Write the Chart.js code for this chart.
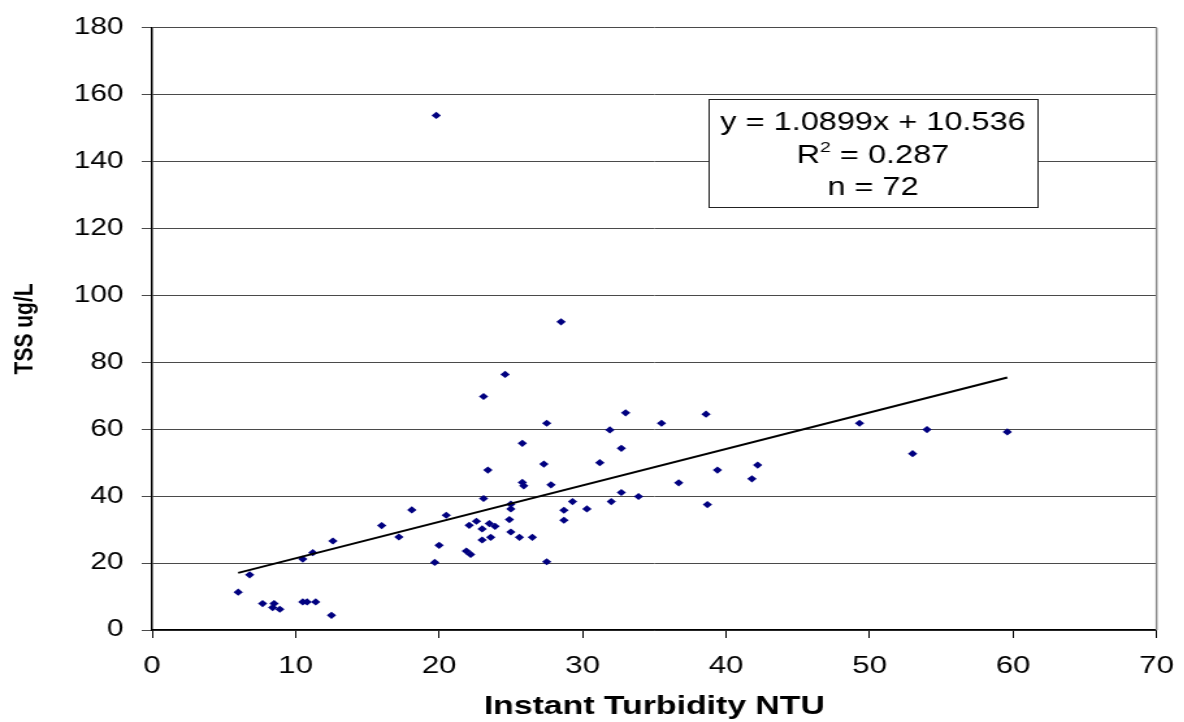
<!DOCTYPE html>
<html>
<head>
<meta charset="utf-8">
<script src="https://cdn.jsdelivr.net/npm/chart.js@4.4.1/dist/chart.umd.min.js"></script>
<style>
    html, body { margin: 0; padding: 0; background: #fff; overflow: hidden; }
    /* the whole chart is drawn narrow and widened, like the original export */
    #wrap {
        position: absolute; left: 0; top: 0;
        width: 911px; height: 722px;
        transform: scaleX(1.3); transform-origin: 0 0;
    }
</style>
</head>
<body>
<div id="wrap"><canvas id="tssChart"></canvas></div>
<script>
// instant turbidity (NTU) vs. TSS (ug/L)
const turbidity = [
    6.0, 6.8, 7.7, 8.5, 8.4, 8.9, 10.5, 10.8, 11.4, 12.5,
    10.5, 11.2, 12.6, 16.0, 17.2, 18.1, 20.5, 20.0, 19.7, 19.8,
    24.6, 23.1, 28.5, 33.0, 38.6, 27.5, 35.5, 31.9, 25.8, 32.7,
    23.4, 27.3, 31.2, 39.4, 36.7, 25.8, 25.9, 27.8, 32.7, 33.9,
    23.1, 29.3, 32.0, 38.7, 25.0, 25.0, 28.7, 30.3, 22.1, 22.6,
    23.0, 23.5, 23.9, 24.9, 28.7, 25.0, 25.6, 26.5, 23.0, 23.6,
    21.9, 22.2, 27.5, 49.3, 54.0, 53.0, 42.2, 41.8, 59.6
];
const tss = [
    11.3, 16.5, 7.9, 7.9, 6.7, 6.2, 8.4, 8.4, 8.4, 4.4,
    21.2, 23.1, 26.6, 31.2, 27.8, 35.9, 34.3, 25.3, 20.2, 153.8,
    76.4, 69.8, 92.1, 64.9, 64.5, 61.8, 61.8, 59.8, 55.8, 54.3,
    47.8, 49.6, 50.0, 47.8, 44.0, 44.1, 43.1, 43.4, 41.1, 39.9,
    39.3, 38.4, 38.4, 37.5, 37.6, 36.2, 35.8, 36.2, 31.3, 32.5,
    30.2, 31.8, 31.0, 33.0, 32.8, 29.3, 27.7, 27.7, 26.9, 27.7,
    23.6, 22.6, 20.4, 61.8, 59.9, 52.7, 49.3, 45.2, 59.2
];

// linear fit as reported
const slope = 1.0899;
const intercept = 10.536;
const rSquared = 0.287;
const nSamples = 72;

// axis ticks
const xTicks = [0, 10, 20, 30, 40, 50, 60, 70];
const yTicks = [0, 20, 40, 60, 80, 100, 120, 140, 160, 180];

const FONT = "'Liberation Sans', Arial, sans-serif";

const points = turbidity.map((x, i) => ({ x: x, y: tss[i] }));
const xMin = Math.min(...turbidity);
const xMax = Math.max(...turbidity);
const trend = [xMin, xMax].map(x => ({ x: x, y: slope * x + intercept }));

// right frame line + equation box
const framePlugin = {
    id: 'frame',
    afterDraw(chart) {
        const { ctx, chartArea: a } = chart;
        ctx.save();
        ctx.strokeStyle = '#8a8a8a';
        ctx.lineWidth = 1.5;
        ctx.beginPath();
        ctx.moveTo(a.right, a.top);
        ctx.lineTo(a.right, a.bottom);
        ctx.stroke();

        const bx = a.left + 428, by = 99, bw = 253, bh = 108;
        ctx.fillStyle = '#fff';
        ctx.fillRect(bx, by, bw, bh);
        ctx.strokeStyle = '#222';
        ctx.lineWidth = 1;
        ctx.strokeRect(bx + 0.5, by + 0.5, bw, bh);

        const cx = bx + bw / 2;
        ctx.fillStyle = '#000';
        ctx.textBaseline = 'alphabetic';
        ctx.textAlign = 'center';
        ctx.font = '25px ' + FONT;
        ctx.fillText('y = ' + slope.toFixed(4) + 'x + ' + intercept.toFixed(3), cx, by + 31);
        ctx.fillText('n = ' + nSamples, cx, by + 96);

        // R² line with a raised 2
        const rest = ' = ' + rSquared.toFixed(3);
        ctx.textAlign = 'left';
        const wR = ctx.measureText('R').width;
        const wRest = ctx.measureText(rest).width;
        ctx.font = '15px ' + FONT;
        const wSup = ctx.measureText('2').width;
        const x0 = cx - (wR + wSup + wRest) / 2;
        ctx.font = '25px ' + FONT;
        ctx.fillText('R', x0, by + 64);
        ctx.font = '15px ' + FONT;
        ctx.fillText('2', x0 + wR, by + 53);
        ctx.font = '25px ' + FONT;
        ctx.fillText(rest, x0 + wR + wSup, by + 64);
        ctx.restore();
    }
};

new Chart(document.getElementById('tssChart'), {
    type: 'scatter',
    data: {
        datasets: [
            {
                label: 'TSS',
                data: points,
                pointStyle: 'rectRot',
                pointRadius: 3.6,
                backgroundColor: '#000080',
                borderWidth: 0,
                order: 2
            },
            {
                type: 'line',
                label: 'Linear fit',
                data: trend,
                borderColor: '#000',
                borderWidth: 2,
                pointRadius: 0,
                fill: false,
                order: 1
            }
        ]
    },
    options: {
        responsive: true,
        maintainAspectRatio: false,
        animation: false,
        layout: { padding: { left: 0, right: 19, top: 20, bottom: 0 } },
        plugins: {
            legend: { display: false },
            tooltip: { enabled: false }
        },
        scales: {
            x: {
                type: 'linear',
                min: xTicks[0],
                max: xTicks[xTicks.length - 1],
                afterFit: s => { s.height = 92; },
                afterBuildTicks: s => { s.ticks = xTicks.map(v => ({ value: v })); },
                ticks: {
                    color: '#000',
                    // tall line box pushes the labels a bit lower under the axis
                    font: { family: FONT, size: 24, lineHeight: 1.7 },
                    padding: 8,
                    maxRotation: 0
                },
                grid: { drawOnChartArea: false, drawTicks: true, tickLength: 8, color: '#000' },
                border: { color: '#000', width: 1.5 },
                title: {
                    display: true,
                    text: 'Instant Turbidity NTU',
                    color: '#000',
                    font: { family: FONT, size: 26, weight: 'bold' },
                    padding: { top: 0, bottom: 0 }
                }
            },
            y: {
                min: yTicks[0],
                max: yTicks[yTicks.length - 1],
                afterFit: s => { s.width = 117; },
                afterBuildTicks: s => { s.ticks = yTicks.map(v => ({ value: v })); },
                ticks: {
                    color: '#000',
                    font: { family: FONT, size: 23 },
                    padding: 14
                },
                grid: { color: '#4a4a4a', lineWidth: 1, tickLength: 8 },
                border: { color: '#000', width: 1.5 },
                title: {
                    display: true,
                    text: 'TSS ug/L',
                    color: '#000',
                    font: { family: FONT, size: 21, weight: 'bold' },
                    padding: { top: 7, bottom: 0 }
                }
            }
        }
    },
    plugins: [framePlugin]
});
</script>
</body>
</html>
